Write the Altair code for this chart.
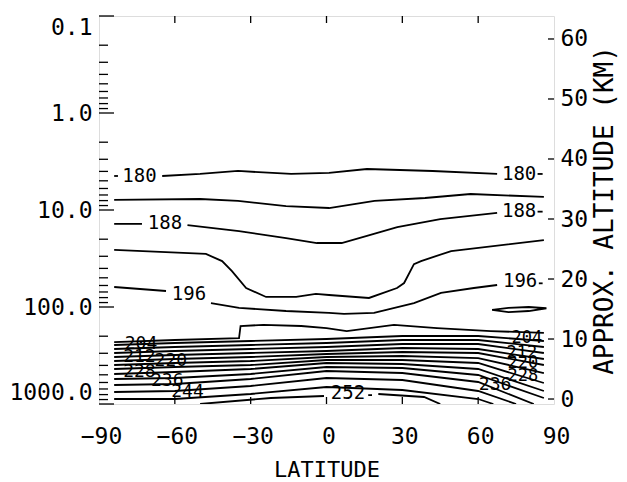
import altair as alt
import pandas as pd

W, H = 455, 388
FONT = "DejaVu Sans Mono"

# ---- contour lines: latitude (deg) and pressure (hPa); None = gap for a label ----
lat_180 = [-84, -82.5, None, -65, -50, -35, -14, 1, 16, 42, 67.5, None, 83.5, 85.5]
p_180 = [4.46, 4.46, None, 4.46, 4.25, 3.96, 4.25, 4.15, 3.78, 3.96, 4.25, None, 4.25, 4.25]

lat_184 = [-84, -50, -35, -16, 1, 19, 39, 57, 86]
p_184 = [7.88, 7.70, 8.07, 9.10, 9.54, 8.07, 7.52, 6.84, 7.34]

lat_188 = [-84, -73, None, -55, -34.6, -16, -3.8, 1, 6, 16, 28, 45, 67.5, None, 83.5, 85.5]
p_188 = [13.9, 13.9, None, 14.3, 16.5, 19.5, 21.9, 21.9, 21.9, 18.5, 15.0, 12.4, 10.7, None, 10.4, 10.4]

lat_192 = [-84, -47.7, -41.3, -37.4, -31.8, -23.9, -12, -4.2, 1, 16.8, 27.9, 30.7, 34.6, 37.4, 49.3, 86]
p_192 = [25.8, 28.4, 33.6, 42.6, 63.7, 78.8, 78.8, 73.4, 75.2, 80.7, 63.7, 56.6, 36.1, 33.6, 26.5, 20.4]

lat_196 = [-84, -63.5, None, -45.7, -34.6, -16, 1, 6.9, 18.8, 34.6, 45.3, 58.3, 67.5, None, 84, 85.5]
p_196 = [62.2, 68.4, None, 91, 102, 110, 115, 118, 115, 91, 71.7, 63.7, 59.3, None, 57, 57]

lat_lens = [65.5, 72, 80, 87, 80, 72, 65.5]
p_lens = [107, 102, 100, 103, 110, 113, 107]

lat_200 = [-84, -60, -34.6, -34, -25, -10, 0, 8, 26.7, 43.7, 65, 86]
p_200 = [230, 219, 209, 157, 153, 157, 165, 177, 153, 165, 177, 185]

lat_dense = [-84, -60, -30, 0, 30, 60, 86]
p_204 = [246.5, 235.0, 224.1, 213.8, 199.1, 199.1, 224.1]
p_208 = [271.0, 258.4, 246.5, 235.0, 218.9, 218.9, 258.4]
p_212 = [298.0, 284.2, 271.0, 258.4, 240.7, 240.7, 298.0]
p_216 = [327.7, 312.5, 298.0, 284.2, 264.7, 271.0, 343.7]
p_220 = [360.4, 343.7, 327.7, 305.2, 291.0, 298.0, 396.3]
p_224 = [396.3, 377.9, 360.4, 327.7, 320.1, 335.8, 479.2]
p_228 = [435.8, 415.5, 396.3, 351.9, 351.9, 377.9, 607.6]
p_232 = [490.7, 467.9, 435.8, 377.9, 387.0, 435.8, 734.5]
p_236 = [552.5, 539.5, 490.7, 415.5, 425.5, 502.3, 867.3]

lat_240 = [-84, -60, -30, 0, 30, 60, 82]
p_240 = [637.0, 622.2, 552.5, 456.9, 479.2, 593.2, 1000]

lat_244 = [-84, -60, -30, 0, 30, 60, 75]
p_244 = [752.2, 734.5, 652.4, 539.5, 565.6, 734.5, 1000]

lat_248 = [-84, -60, -30, 0, 30, 60, 66]
p_248 = [888.3, 888.3, 788.6, 668.0, 717.4, 888.3, 1000]

lat_252 = [-50, -22, -1, None, 16.5, 18, None, 20.5, 38.6, 45]
p_252 = [1000, 867, 827, None, 810, 810, None, 789, 847, 1000]

# ---- contour labels ----
label_text = ["180", "180", "188", "188", "196", "196",
              "204", "212", "220", "228", "236", "244",
              "204", "212", "220", "228", "236", "252"]
label_lat = [-74, 76.2, -63.9, 76.2, -54.4, 76.6,
             -73.4, -74, -61.6, -74, -63, -55,
             79.3, 77.3, 77.7, 77.7, 66.7, 8.5]
label_p = [4.46, 4.25, 13.6, 10.2, 73.4, 54.0,
           241, 328, 360, 468, 579, 752,
           209, 298, 378, 514, 637, 770]
label_size = [19, 19, 19, 19, 19, 19,
              18, 18, 18, 18, 18, 18,
              17, 17, 17, 17, 18, 19]

# ---- axes ----
lat_labels = [-90, -60, -30, 0, 30, 60, 90]
lat_ticks = [-60, -30, 0, 30, 60]
p_major = [0.1, 1, 10, 100, 1000]
p_minor = [0.2, 0.3, 0.4, 0.5, 0.6, 0.7, 0.8, 0.9,
           2, 3, 4, 5, 6, 7, 8, 9,
           20, 30, 40, 50, 60, 70, 80, 90,
           200, 300, 400, 500, 600, 700, 800, 900]
km_ticks = [0, 10, 20, 30, 40, 50, 60]
km_domain = [-0.83, 63.83]

contours = [
    (180, lat_180, p_180), (184, lat_184, p_184), (188, lat_188, p_188),
    (192, lat_192, p_192), (196, lat_196, p_196), (2001, lat_lens, p_lens),
    (200, lat_200, p_200),
    (204, lat_dense, p_204), (208, lat_dense, p_208), (212, lat_dense, p_212),
    (216, lat_dense, p_216), (220, lat_dense, p_220), (224, lat_dense, p_224),
    (228, lat_dense, p_228), (232, lat_dense, p_232), (236, lat_dense, p_236),
    (240, lat_240, p_240), (244, lat_244, p_244), (248, lat_248, p_248),
    (252, lat_252, p_252),
]

rows = []
for level, lats, ps in contours:
    seg = 0
    for i, (la, p) in enumerate(zip(lats, ps)):
        if la is None:
            seg += 1
            continue
        rows.append({"seg": f"{level}_{seg}", "lat": la, "p": p, "i": i})
df_lines = pd.DataFrame(rows)
df_labels = pd.DataFrame({"t": label_text, "lat": label_lat, "p": label_p, "s": label_size})

x_enc = alt.X(
    "lat:Q",
    scale=alt.Scale(domain=[-90, 90], nice=False, zero=False),
    axis=alt.Axis(
        values=lat_labels, title="LATITUDE", tickSize=0, domain=False, grid=False,
        labelFont=FONT, labelFontSize=23, labelPadding=21, labelFlush=False,
        labelColor="black", labelOffset=2,
        titleFont=FONT, titleFontSize=22, titleFontWeight="normal",
        titleColor="black", titlePadding=11,
    ),
)
y_enc = alt.Y(
    "p:Q",
    scale=alt.Scale(type="log", domain=[0.1, 1000], reverse=True, nice=False),
    axis=alt.Axis(
        values=p_major, labelExpr="format(datum.value, '.1f')", tickSize=0,
        domain=False, grid=False, labelFlush=True, labelPadding=7, title=None,
        labelFont=FONT, labelFontSize=23, labelColor="black",
    ),
)

lines = alt.Chart(df_lines).mark_line(color="black", strokeWidth=1.8, clip=True).encode(
    x=x_enc, y=y_enc, detail="seg:N", order="i:Q"
)
texts = alt.Chart(df_labels).mark_text(font=FONT, color="black").encode(
    x=x_enc, y=y_enc, text="t:N",
    size=alt.Size("s:Q", scale=None, legend=None),
)
major = alt.Chart(pd.DataFrame({"p": p_major})).mark_rule(color="black", strokeWidth=1.3).encode(
    y=y_enc, x=alt.value(0), x2=alt.value(15)
)
minor = alt.Chart(pd.DataFrame({"p": p_minor})).mark_rule(color="black", strokeWidth=1.3).encode(
    y=y_enc, x=alt.value(0), x2=alt.value(9)
)
top = alt.Chart(pd.DataFrame({"lat": lat_ticks})).mark_rule(color="black", strokeWidth=1.3).encode(
    x=x_enc, y=alt.value(0), y2=alt.value(7)
)
bottom = alt.Chart(pd.DataFrame({"lat": lat_ticks})).mark_rule(color="black", strokeWidth=1.3).encode(
    x=x_enc, y=alt.value(H - 7), y2=alt.value(H)
)

left = alt.layer(lines, texts, major, minor, top, bottom)

right = alt.Chart(pd.DataFrame({"km": km_ticks})).mark_rule(color="black", strokeWidth=1.3).encode(
    y=alt.Y(
        "km:Q",
        scale=alt.Scale(domain=km_domain, nice=False, zero=False),
        axis=alt.Axis(
            orient="right", values=km_ticks, title="APPROX. ALTITUDE (KM)",
            tickSize=0, domain=False, grid=False, labelPadding=6,
            labelFont=FONT, labelFontSize=23, labelColor="black",
            titleFont=FONT, titleFontSize=26, titleFontWeight="normal",
            titleColor="black", titleAngle=270, titlePadding=30,
        ),
    ),
    x=alt.value(W - 6),
    x2=alt.value(W),
)

chart = (
    alt.layer(left, right)
    .resolve_scale(y="independent")
    .properties(width=W, height=H, padding={"left": 0, "top": 7, "right": 0, "bottom": 5})
    .configure_view(stroke="black", strokeWidth=1.5)
    .configure(background="white")
)

chart.save("out.html", embed_options={"renderer": "svg", "actions": False})
